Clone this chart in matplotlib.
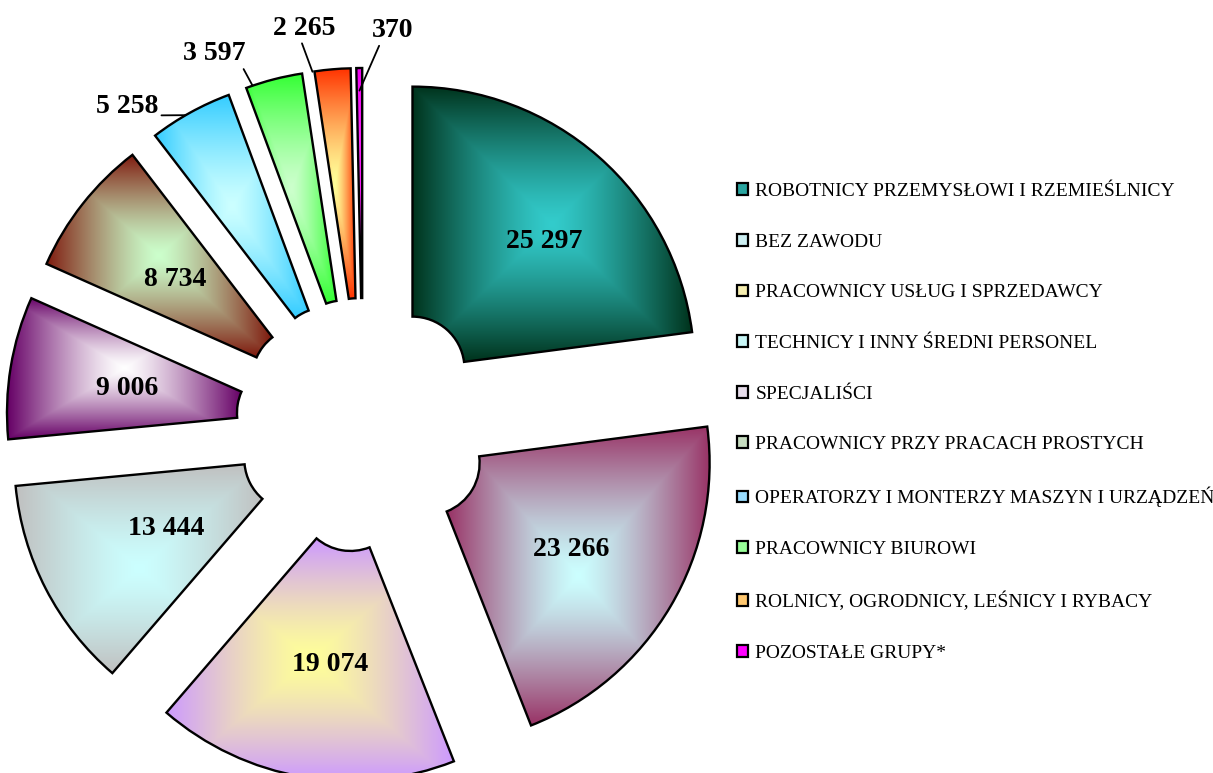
import numpy as np
import matplotlib.pyplot as plt
from matplotlib.colors import to_rgb
from matplotlib.patches import Patch

categories = [
    "ROBOTNICY PRZEMYSŁOWI I RZEMIEŚLNICY",
    "BEZ ZAWODU",
    "PRACOWNICY USŁUG I SPRZEDAWCY",
    "TECHNICY I INNY ŚREDNI PERSONEL",
    "SPECJALIŚCI",
    "PRACOWNICY PRZY PRACACH PROSTYCH",
    "OPERATORZY I MONTERZY MASZYN I URZĄDZEŃ",
    "PRACOWNICY BIUROWI",
    "ROLNICY, OGRODNICY, LEŚNICY I RYBACY",
    "POZOSTAŁE GRUPY*",
]
values = [25297, 23266, 19074, 13444, 9006, 8734, 5258, 3597, 2265, 370]

# gradient fill: colour in the middle of each slice -> colour at its edges
centre_colors = ["#33cccc", "#ccffff", "#ffff99", "#ccffff", "#ffffff",
                 "#ccffcc", "#ccffff", "#ccffcc", "#ffff99", "#ff33ff"]
edge_colors = ["#00331c", "#993366", "#cc99ff", "#c0c0c0", "#660066",
               "#7f1a0e", "#33ccff", "#33ff33", "#ff3300", "#ee00ee"]
legend_colors = ["#2aa5a0", "#cdeff2", "#f6eeb0", "#c8f6f6", "#e6dcea",
                 "#c6dcc0", "#99ddff", "#99ff99", "#ffc870", "#ff00ff"]

# layout (pixel-like data units, y up)
W, H = 1213, 773
CENTER = (363, 348)
R = 282
R_IN = 52
EXPLODE = 75  # pie() offsets wedges by this many data units

inside_dist = [0.655, 0.59, 0.585, 0.52, 0.58, 0.58]
inside_shift = [-4.4, 0.0, 2.6, 0.0, 0.0, 0.0]
outside_dist = [1.41, 1.425, 1.43, 1.41]
outside_shift = [7.4, 7.3, 3.5, -4.9]
anchor_shift = [1.1, 4.5, 4.1, 0.0]
anchor_r = [1.0, 1.0, 1.0, 0.92]
leader_relpos = [(1.0, 0.15), (0.95, 0.0), (0.45, 0.0), (0.2, 0.0)]

LABEL_FONT = dict(family="Liberation Serif", weight="bold", size=20)


def fmt(v):
    return f"{v:,}".replace(",", " ")


def gradient_image(c_in, c_out, n=200, power=1.3):
    u = np.linspace(-1, 1, n)
    uu, vv = np.meshgrid(u, u)
    t = np.maximum(np.abs(uu), np.abs(vv)) ** power
    c_in, c_out = np.array(to_rgb(c_in)), np.array(to_rgb(c_out))
    return c_in + (c_out - c_in) * t[..., None]


fig = plt.figure(figsize=(W / 100, H / 100), dpi=100)
ax = fig.add_axes([0, 0, 1, 1])

wedges, _ = ax.pie(values, radius=R, center=CENTER,
                   explode=[EXPLODE] * len(values),
                   startangle=90, counterclock=False,
                   colors=centre_colors,
                   wedgeprops=dict(width=R - R_IN, edgecolor="black",
                                   linewidth=1.7, facecolor="none"))

for w, ci, co in zip(wedges, centre_colors, edge_colors):
    bb = w.get_path().get_extents()
    ax.imshow(gradient_image(ci, co), extent=(bb.x0, bb.x1, bb.y0, bb.y1),
              origin="lower", interpolation="bilinear", aspect="auto",
              clip_path=w, zorder=1)
    w.set_zorder(2)

# value labels inside the big slices
for i, w in enumerate(wedges[:6]):
    mid = np.radians((w.theta1 + w.theta2) / 2 + inside_shift[i])
    d = inside_dist[i] * R
    x = w.center[0] + d * np.cos(mid)
    y = w.center[1] + d * np.sin(mid) - 2
    ax.text(x, y, fmt(values[i]), ha="center", va="center", zorder=3, **LABEL_FONT)

# small slices: labels outside with leader lines
for j, w in enumerate(wedges[6:]):
    i = j + 6
    mid = (w.theta1 + w.theta2) / 2
    a = np.radians(mid + outside_shift[j])
    tx = CENTER[0] + outside_dist[j] * R * np.cos(a)
    ty = CENTER[1] + outside_dist[j] * R * np.sin(a) - 2
    b = np.radians(mid + anchor_shift[j])
    ax_ = w.center[0] + anchor_r[j] * R * np.cos(b)
    ay = w.center[1] + anchor_r[j] * R * np.sin(b)
    ax.annotate(fmt(values[i]), xy=(ax_, ay), xytext=(tx, ty),
                ha="center", va="center", zorder=3,
                arrowprops=dict(arrowstyle="-", color="black", lw=1.3,
                                shrinkA=0, shrinkB=0, relpos=leader_relpos[j]),
                **LABEL_FONT)

handles = [Patch(facecolor=c, edgecolor="black", linewidth=1.6) for c in legend_colors]
fig.legend(handles, categories, loc="upper left",
           bbox_to_anchor=(737 / W, 1 - 183 / H), frameon=False,
           prop=dict(family="Liberation Serif", size=14),
           handlelength=0.55, handleheight=0.55, handletextpad=0.4,
           labelspacing=1.73, borderpad=0, borderaxespad=0)

ax.set_xlim(0, W)
ax.set_ylim(0, H)
ax.axis("off")

fig.savefig("out.png", dpi=100)
plt.close(fig)
